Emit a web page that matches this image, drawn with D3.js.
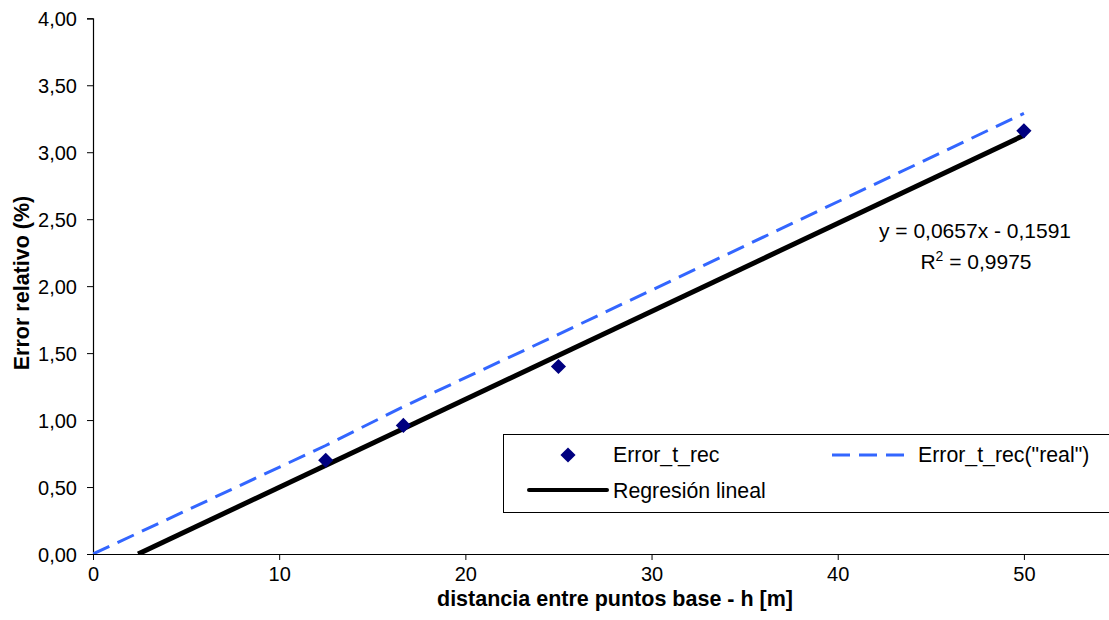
<!DOCTYPE html>
<html>
<head>
<meta charset="utf-8">
<script src="https://cdn.jsdelivr.net/npm/d3@7"></script>
<style>
  html, body { margin: 0; padding: 0; background: #fff; }
  svg { display: block; font-family: "Liberation Sans", Arial, sans-serif; }
</style>
</head>
<body>
<svg id="chart" width="1109" height="620"></svg>
<script>
// Measured relative error against base-point distance
const distances = [12.5, 16.67, 25, 50];
const errorRec = [0.70, 0.96, 1.40, 3.16];

// "Real" error curve (starts at the origin)
const realDistances = [0, 12.5, 16.67, 25, 50];
const errorReal = [0, 0.81, 1.10, 1.64, 3.29];

// Linear fit shown in the equation label
const slope = 0.0657;
const intercept = -0.1591;
const r2 = 0.9975;

const xTicks = [0, 10, 20, 30, 40, 50];
const yTicks = [0, 0.5, 1, 1.5, 2, 2.5, 3, 3.5, 4];

const fmtComma = (v, d) => v.toFixed(d).replace(".", ",");

const svg = d3.select("#chart");
const x = d3.scaleLinear().domain([0, 55]).range([93, 1117]);
const y = d3.scaleLinear().domain([0, 4]).range([554, 18.3]);

// clip to plot area
svg.append("defs").append("clipPath").attr("id", "plot")
  .append("rect").attr("x", x(0)).attr("y", y(4)).attr("width", x(55) - x(0)).attr("height", y(0) - y(4));

// Axes
const xAxis = svg.append("g").attr("transform", `translate(0,${y(0)})`)
  .call(d3.axisBottom(x).tickValues(xTicks).tickSize(6).tickPadding(7).tickFormat(d => d));
const yAxis = svg.append("g").attr("transform", `translate(${x(0)},0)`)
  .call(d3.axisLeft(y).tickValues(yTicks).tickSize(6).tickPadding(10).tickFormat(d => fmtComma(d, 2)));
[xAxis, yAxis].forEach(g => {
  g.select(".domain").attr("stroke", "#000").attr("stroke-width", 1.2);
  g.selectAll(".tick line").attr("stroke", "#000");
  g.selectAll("text").attr("font-size", 20).attr("fill", "#000")
    .attr("font-family", "'Liberation Sans', Arial, sans-serif");
});
xAxis.select(".domain").attr("d", `M${x(0)},0.5H1109`);
yAxis.selectAll("text").attr("dy", "0.36em");

const plot = svg.append("g").attr("clip-path", "url(#plot)");

// "Real" dashed line
plot.append("path")
  .datum(realDistances.map((d, i) => [d, errorReal[i]]))
  .attr("fill", "none")
  .attr("stroke", "#3366ff")
  .attr("stroke-width", 3)
  .attr("stroke-dasharray", "18,9")
  .attr("d", d3.line().x(d => x(d[0])).y(d => y(d[1])));

// Regression line from the axis crossing up to the last sample
const xStart = Math.max(0, -intercept / slope);
plot.append("path")
  .datum([xStart, 50].map(v => [v, slope * v + intercept]))
  .attr("fill", "none")
  .attr("stroke", "#000")
  .attr("stroke-width", 5)
  .attr("d", d3.line().x(d => x(d[0])).y(d => y(d[1])));

// Diamond markers
const diamond = d3.symbol().type(d3.symbolSquare).size(115);
svg.append("g").selectAll("path")
  .data(distances.map((d, i) => [d, errorRec[i]]))
  .join("path")
  .attr("d", diamond)
  .attr("fill", "#000080")
  .attr("transform", d => `translate(${x(d[0])},${y(d[1])}) rotate(45)`);

// Equation label
const eq = svg.append("text").attr("text-anchor", "middle").attr("font-size", 21).attr("fill", "#000");
eq.append("tspan").attr("x", 975).attr("y", 238)
  .text(`y = ${fmtComma(slope, 4)}x - ${fmtComma(-intercept, 4)}`);
const r2Line = eq.append("tspan").attr("x", 976).attr("y", 269);
r2Line.append("tspan").text("R");
r2Line.append("tspan").attr("font-size", 14).attr("dy", -8).text("2");
r2Line.append("tspan").attr("dy", 8).text(` = ${fmtComma(r2, 4)}`);

// Axis titles
svg.append("text").attr("x", 615).attr("y", 606).attr("text-anchor", "middle")
  .attr("font-size", 21.5).attr("font-weight", "bold").text("distancia entre puntos base - h [m]");
svg.append("text").attr("transform", "translate(29,283) rotate(-90)").attr("text-anchor", "middle")
  .attr("font-size", 21.5).attr("font-weight", "bold").text("Error relativo (%)");

// Legend
const lg = svg.append("g");
lg.append("rect").attr("x", 503.5).attr("y", 434.5).attr("width", 700).attr("height", 78)
  .attr("fill", "#fff").attr("stroke", "#000").attr("stroke-width", 1);
lg.append("path").attr("d", d3.symbol().type(d3.symbolSquare).size(115))
  .attr("fill", "#000080").attr("transform", "translate(568,455) rotate(45)");
lg.append("text").attr("x", 613).attr("y", 462).attr("font-size", 21.3).text("Error_t_rec");
lg.append("line").attr("x1", 832).attr("x2", 906).attr("y1", 455).attr("y2", 455)
  .attr("stroke", "#3366ff").attr("stroke-width", 3).attr("stroke-dasharray", "18,9");
lg.append("text").attr("x", 918).attr("y", 462).attr("font-size", 21.3).text('Error_t_rec("real")');
lg.append("line").attr("x1", 529).attr("x2", 607).attr("y1", 490).attr("y2", 490)
  .attr("stroke", "#000").attr("stroke-width", 4).attr("stroke-linecap", "round");
lg.append("text").attr("x", 613).attr("y", 498).attr("font-size", 21.3).text("Regresión lineal");
</script>
</body>
</html>
